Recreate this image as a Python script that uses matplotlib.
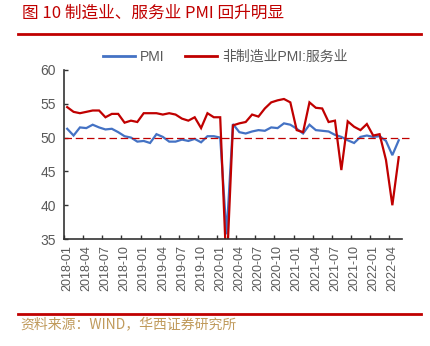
import matplotlib
matplotlib.use("Agg")
import matplotlib.pyplot as plt
from matplotlib.lines import Line2D

plt.rcParams['font.family'] = ['Liberation Sans', 'Noto Sans CJK SC', 'DejaVu Sans']

# monthly labels 2018-01 .. 2022-05
months = [f"{y}-{m:02d}" for y in range(2018, 2023) for m in range(1, 13)][:53]

pmi = [51.3, 50.3, 51.5, 51.4, 51.9, 51.5, 51.2, 51.3, 50.8, 50.2, 50.0, 49.4,
       49.5, 49.2, 50.5, 50.1, 49.4, 49.4, 49.7, 49.5, 49.8, 49.3, 50.2, 50.2,
       50.0, 35.7, 52.0, 50.8, 50.6, 50.9, 51.1, 51.0, 51.5, 51.4, 52.1, 51.9,
       51.3, 50.6, 51.9, 51.1, 51.0, 50.9, 50.4, 50.1, 49.6, 49.2, 50.1, 50.3,
       50.1, 50.2, 49.5, 47.4, 49.6]

services = [54.5, 53.8, 53.6, 53.8, 54.0, 54.0, 53.0, 53.5, 53.5, 52.2, 52.5, 52.3,
            53.6, 53.6, 53.6, 53.4, 53.6, 53.4, 52.8, 52.5, 53.0, 51.4, 53.6, 53.0,
            53.0, 30.1, 51.8, 52.1, 52.3, 53.4, 53.1, 54.3, 55.2, 55.5, 55.7, 55.2,
            51.1, 50.8, 55.2, 54.4, 54.3, 52.3, 52.5, 45.2, 52.4, 51.6, 51.1, 52.0,
            50.3, 50.5, 46.7, 40.0, 47.1]

blue = '#4472C4'
red = '#C00000'
grey = '#595959'

fig = plt.figure(figsize=(4.31, 3.46), dpi=100)
ax = fig.add_axes([0.1485, 0.309, 0.784, 0.489])

x = list(range(len(months)))
ax.plot(x, pmi, color=blue, lw=1.6, solid_joinstyle='miter')
ax.plot(x, services, color=red, lw=1.6, solid_joinstyle='miter')
ax.plot([-0.5, 53.7], [50, 50], color=red, lw=0.9, ls=(0, (6, 3)), clip_on=False)

ax.set_xlim(-0.5, 52.5)
ax.set_ylim(35, 60)
ax.set_yticks([35, 40, 45, 50, 55, 60])
ax.set_xticks(x[::3])
ax.set_xticklabels(months[::3], rotation=90)
ax.set_xticks([i - 0.5 for i in range(0, 54, 3)], minor=True)
ax.tick_params(axis='x', which='major', length=0, pad=4, labelsize=9, labelcolor=grey)
ax.tick_params(axis='x', which='minor', direction='in', length=3, width=1, color='#333333')
ax.tick_params(axis='y', direction='in', length=3, width=1, labelsize=10, labelcolor=grey,
               color='#333333', pad=6)
for s in ['top', 'right']:
    ax.spines[s].set_visible(False)
for s in ['left', 'bottom']:
    ax.spines[s].set_color('#333333')
    ax.spines[s].set_linewidth(1.2)

handles = [Line2D([], [], color=blue, lw=2), Line2D([], [], color=red, lw=2)]
fig.legend(handles, ['PMI', '非制造业PMI:服务业'], loc='center', bbox_to_anchor=(0.523, 0.835),
           ncol=2, frameon=False, fontsize=10, labelcolor=grey, handlelength=2.3,
           columnspacing=1.5, handletextpad=0.35)

# title, rules and source note
fig.text(0.05, 0.962, '图 10 制造业、服务业 PMI 回升明显', color=red, fontsize=12,
         va='center', family=['Noto Sans CJK SC', 'DejaVu Sans'])
fig.add_artist(Line2D([0.042, 0.977], [0.902, 0.902], color=red, lw=2))
fig.add_artist(Line2D([0.042, 0.977], [0.093, 0.093], color=red, lw=2))
fig.text(0.047, 0.063, '资料来源：WIND，华西证券研究所', color='#C09A5B', fontsize=10,
         va='center', family=['Noto Sans CJK SC', 'DejaVu Sans'])

fig.savefig('out.png', dpi=100)
